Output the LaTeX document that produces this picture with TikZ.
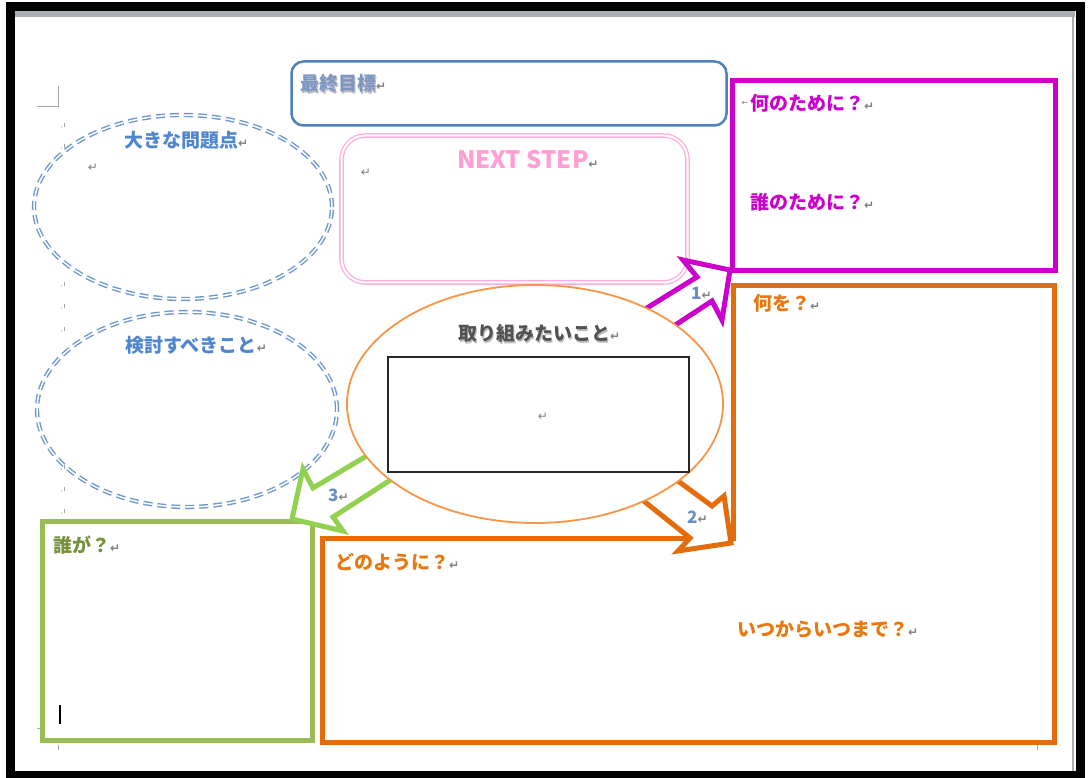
\documentclass[tikz,border=0pt]{standalone}
\usepackage{fontspec}
\usetikzlibrary{shapes.geometric}
\newfontfamily\jpfont{Noto Sans CJK JP}
\newfontfamily\symfont{DejaVu Sans}
\definecolor{goalblue}{HTML}{4F81BD}
\definecolor{goaltext}{HTML}{7E97C2}
\definecolor{headblue}{HTML}{4F86D0}
\definecolor{dashblue}{HTML}{6F96CF}
\definecolor{pinkline}{HTML}{FFADDC}
\definecolor{pinktext}{HTML}{FF9FD2}
\definecolor{mag}{HTML}{CC00CC}
\definecolor{orng}{HTML}{E46C0A}
\definecolor{orngtext}{HTML}{E8780F}
\definecolor{ellorange}{HTML}{F79646}
\definecolor{grnline}{HTML}{9BBB59}
\definecolor{grnarrow}{HTML}{92D050}
\definecolor{olive}{HTML}{76923C}
\definecolor{numblue}{HTML}{6A8FC3}
\definecolor{retgray}{HTML}{808080}
\definecolor{topgray}{HTML}{AAAEB3}
\definecolor{shadowgray}{HTML}{BDBDBD}
\newcommand{\retmark}{{\symfont\fontsize{12}{14}\selectfont\color{retgray}↵}}
\tikzset{
  jt/.style={font=\jpfont\bfseries\fontsize{19}{22}\selectfont, inner sep=0pt, anchor=west},
  numlabel/.style={font=\jpfont\bfseries\fontsize{17}{19}\selectfont, text=numblue, inner sep=0pt, anchor=west},
  retnode/.style={font=\symfont\fontsize{12}{14}\selectfont, text=retgray, inner sep=0pt},
  dashell/.style={ellipse, inner sep=0pt, draw=dashblue, line width=1.4pt, double=white, double distance=1.5pt, dash pattern=on 9pt off 5pt},
  thickbox/.style={rectangle, inner sep=0pt, line width=5pt},
  blockarrow/.style={line width=5pt, fill=white, line join=miter, miter limit=6},
  tick/.style={draw=retgray!70, line width=0.6pt}
}
\begin{document}
\begin{tikzpicture}[x=1pt,y=-1pt]
\useasboundingbox (0,0) rectangle (1088,778);
\fill[white] (0,0) rectangle (1088,778);
% page frame
\fill[topgray] (15,11) rectangle (1075,17);
\draw[topgray, line width=2pt] (1073,11) -- (1073,771);
\draw[black, line width=9pt] (10.5,6.5) rectangle (1080.5,775.5);
% page corner marks and small marks
\draw[tick] (37,106) -- (58,106) -- (58,86);
\draw[tick] (37,728) -- (42,728);
\draw[tick] (58,745) -- (58,750);
\draw[tick] (1037,745) -- (1037,750);
\foreach \yy in {126,147,285,307,330,468,490,512} {
  \draw[tick] (64.5,\yy-3) -- (64.5,\yy+1);
  \fill[retgray!70] (61.5,\yy+1) circle (0.6);
}

% dashed ellipses
\node[dashell, minimum width=298pt, minimum height=184pt] (prob) at (183,207) {};
\node[dashell, minimum width=300pt, minimum height=195pt] (study) at (187,409.5) {};

% goal box
\node[rectangle, rounded corners=12pt, draw=goalblue, line width=2.5pt, minimum width=435pt, minimum height=64pt, inner sep=0pt] (goal) at (509,93.5) {};
% next step box
\node[rectangle, rounded corners=24pt, draw=pinkline, line width=1.3pt, double=white, double distance=2pt, minimum width=346pt, minimum height=147pt, inner sep=0pt] (next) at (514.5,209) {};
% purpose box
\node[thickbox, draw=mag, minimum width=323pt, minimum height=190pt] (purpose) at (894,175.5) {};
% who box
\node[thickbox, draw=grnline, minimum width=270pt, minimum height=219pt] (who) at (177.5,631) {};
% L-shaped orange box
\coordinate (L1) at (733,285.5);
\coordinate (L2) at (1054.5,285.5);
\coordinate (L3) at (1054.5,742.5);
\coordinate (L4) at (322.5,742.5);
\coordinate (L5) at (322.5,538);
\coordinate (L6) at (733,538);
\draw[orng, line width=5pt, line join=miter] (L1) -- (L2) -- (L3) -- (L4) -- (L5) -- (L6) -- cycle;

% block arrows
\draw[blockarrow, draw=mag] (600,337) -- (697,277) -- (683,260) -- (730,270) -- (722,320) -- (712,301) -- (628,356) -- cycle;
\draw[blockarrow, draw=orng] (640,453) -- (712,506) -- (724,496) -- (731,543) -- (678,551) -- (690,538) -- (610,474) -- cycle;
\draw[blockarrow, draw=grnarrow] (400,436) -- (313,488) -- (303,469) -- (292,519) -- (343,531) -- (333,517) -- (420,461) -- cycle;

% central ellipse
\node[ellipse, draw=ellorange, line width=1.8pt, fill=white, minimum width=376pt, minimum height=238pt, inner sep=0pt] (core) at (535,404) {};
\node[rectangle, draw=black!85, line width=1.2pt, minimum width=301pt, minimum height=115pt, inner sep=0pt] (corebox) at (538.5,414.5) {};
\node[retnode] (coreret) at (543,417) {↵};

% texts
\node[jt, text=shadowgray] (goalsh) at (301.5,85) {最終目標};
\node[jt, text=goaltext] (goaltxt) at (300,83) {最終目標\retmark};
\node[jt, text=headblue] (probtxt) at (124,140) {大きな問題点\retmark};
\node[retnode] (probret) at (93,168) {↵};
\node[jt, text=headblue] (studytxt) at (125,345) {検討すべきこと\retmark};
\node[font=\jpfont\bfseries\fontsize{24}{26}\selectfont, text=pinktext, inner sep=0pt, anchor=west] (nexttxt) at (457,160) {NEXT STEP\retmark};
\node[retnode] (nextret) at (366,173) {↵};
\node[jt, text=mag] (why1) at (750,103) {何のために？\retmark};
\node[retnode, font=\symfont\fontsize{8}{9}\selectfont] (whyarrow) at (745,103) {←};
\node[jt, text=mag] (why2) at (750,202) {誰のために？\retmark};
\node[jt, text=orngtext] (what) at (753,303) {何を？\retmark};
\node[jt, text=shadowgray] (coresh) at (459.5,335) {取り組みたいこと};
\node[jt, text=black!68] (coretxt) at (458,333) {取り組みたいこと\retmark};
\node[jt, text=orngtext] (how) at (335,562) {どのように？\retmark};
\node[jt, text=orngtext] (when) at (737,630) {いつからいつまで？\retmark};
\node[jt, text=olive] (whotxt) at (53,545) {誰が？\retmark};
\draw[black, line width=2pt] (60,705) -- (60,724);
\node[numlabel] (n1) at (691,293) {1\retmark};
\node[numlabel] (n2) at (687,517) {2\retmark};
\node[numlabel] (n3) at (328,495) {3\retmark};
\end{tikzpicture}
\end{document}
